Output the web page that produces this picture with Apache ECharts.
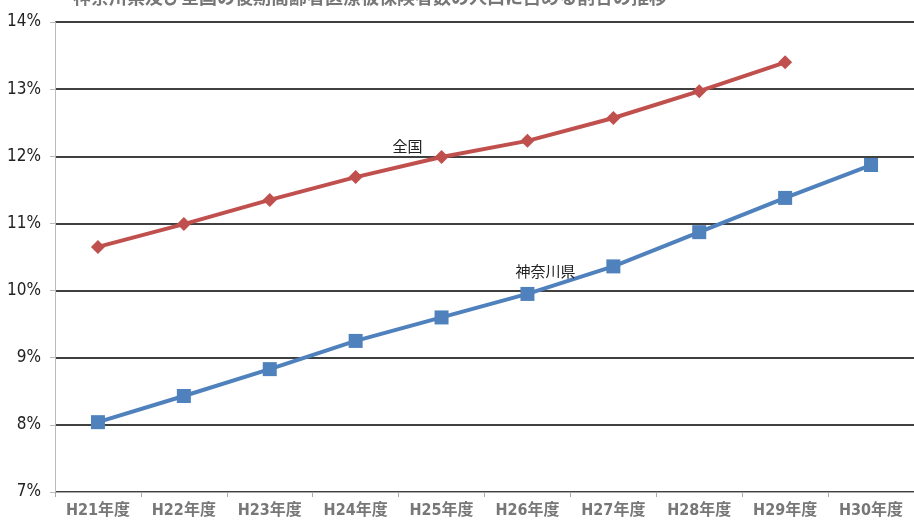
<!DOCTYPE html>
<html><head><meta charset="utf-8">
<script src="https://cdn.jsdelivr.net/npm/echarts@6/dist/echarts.min.js"></script>
<style>html,body{margin:0;padding:0;background:#fff}#c{width:914px;height:523px}</style>
</head><body><div id="c"></div>
<script>
const titleText = '神奈川県及び全国の後期高齢者医療被保険者数の人口に占める割合の推移';
const categories = ['H21年度','H22年度','H23年度','H24年度','H25年度','H26年度','H27年度','H28年度','H29年度','H30年度'];
const zenkoku = [10.65, 10.99, 11.35, 11.69, 11.99, 12.23, 12.57, 12.97, 13.40, null];
const kanagawa = [8.04, 8.43, 8.83, 9.25, 9.60, 9.95, 10.36, 10.87, 11.38, 11.87];
const yTicks = [7, 8, 9, 10, 11, 12, 13, 14];

const jp = '"Noto Sans CJK JP", sans-serif';
const narrow = '"Liberation Sans Narrow", "DejaVu Sans Condensed", "Noto Sans CJK JP", sans-serif';

function withLabel(arr, idx, text, offset) {
  return arr.map((v, i) => i === idx ? {
    value: v,
    label: { show: true, formatter: text, position: 'top', offset: offset,
      fontFamily: jp, fontSize: 15, color: '#222' }
  } : v);
}

const chart = echarts.init(document.getElementById('c'));
chart.setOption({
  animation: false,
  title: { text: titleText, left: 68, top: -17,
    textStyle: { fontFamily: jp, fontSize: 18, fontWeight: 'bold', color: '#777' } },
  grid: { left: 55, right: -5, top: 22, bottom: 31 },
  xAxis: {
    type: 'category', data: categories, boundaryGap: true,
    axisLine: { show: true, lineStyle: { color: '#aaa', width: 1 } },
    axisTick: { show: true, length: 5, lineStyle: { color: '#aaa' } },
    axisLabel: { fontFamily: narrow, fontSize: 16, fontWeight: 'bold', color: '#777', margin: 11 }
  },
  yAxis: {
    type: 'value', min: 7, max: 14, interval: 1,
    axisLine: { show: true, lineStyle: { color: '#bbb', width: 1 } },
    axisTick: { show: true, length: 5, lineStyle: { color: '#bbb' } },
    axisLabel: { fontFamily: narrow, fontSize: 17, color: '#222', margin: 14,
      formatter: v => yTicks.includes(v) ? v + '%' : '' },
    splitLine: { show: true, lineStyle: { color: '#000', width: 1.5 } }
  },
  series: [
    { name: '全国', type: 'line', data: withLabel(zenkoku, 4, '全国', [-34, 9]),
      symbol: 'diamond', symbolSize: 14,
      lineStyle: { color: '#C0504D', width: 4 },
      itemStyle: { color: '#C0504D' }, z: 3 },
    { name: '神奈川県', type: 'line', data: withLabel(kanagawa, 5, '神奈川県', [18, -3]),
      symbol: 'rect', symbolSize: 14,
      lineStyle: { color: '#4F81BD', width: 4 },
      itemStyle: { color: '#4F81BD' }, z: 3 }
  ]
});
</script></body></html>
